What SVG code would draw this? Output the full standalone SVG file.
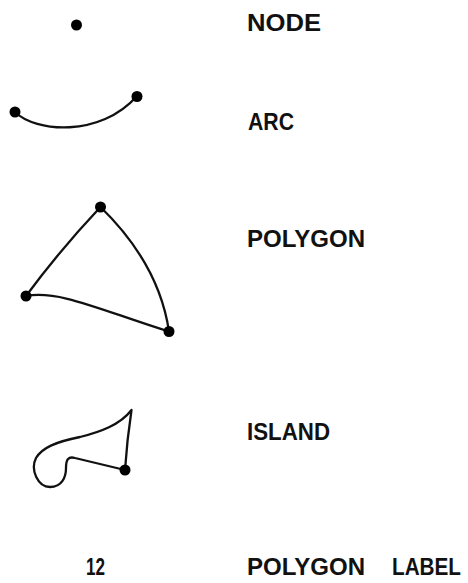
<svg xmlns="http://www.w3.org/2000/svg" width="468" height="583" viewBox="0 0 468 583">
<style>
.ln{fill:none;stroke:#111;stroke-width:2.3;stroke-linejoin:round;stroke-linecap:round}
.dot{fill:#000}
.lbl{font-family:"Liberation Sans",Arial,sans-serif;font-weight:bold;font-size:23px;fill:#111}
</style>
<rect width="468" height="583" fill="#fff"/>
<g id="node">
<circle class="dot" cx="76.5" cy="25" r="5.5"/>
<text class="lbl" x="247" y="31" textLength="74" lengthAdjust="spacingAndGlyphs">NODE</text>
</g>
<g id="arc">
<path class="ln" d="M15,112 C35,132 100,138 137,96"/>
<circle class="dot" cx="15" cy="112" r="5.5"/>
<circle class="dot" cx="137" cy="96.5" r="5.5"/>
<text class="lbl" x="248" y="130" textLength="46" lengthAdjust="spacingAndGlyphs">ARC</text>
</g>
<g id="polygon">
<path class="ln" d="M100.5,207 Q60,250 26,296 C60,290 100,310 169,331.5 Q159,264 100.5,207 Z"/>
<circle class="dot" cx="100.5" cy="207" r="5.5"/>
<circle class="dot" cx="26" cy="296" r="5.5"/>
<circle class="dot" cx="169" cy="331.5" r="5.5"/>
<text class="lbl" x="247" y="247" textLength="118" lengthAdjust="spacingAndGlyphs">POLYGON</text>
</g>
<g id="island">
<path class="ln" d="M125,470 Q127,440 131.5,410 C120,425 100,432 80,437 C55,442 42,448 36,458 C30,470 38,487 50,487 C62,487 66,477 66,468 C66,460 68,456 75,458 L125,470 Z"/>
<circle class="dot" cx="125" cy="470" r="5.5"/>
<text class="lbl" x="247" y="440" textLength="83" lengthAdjust="spacingAndGlyphs">ISLAND</text>
</g>
<g id="polygon-label">
<text class="lbl" x="86" y="575" font-size="22" textLength="19" lengthAdjust="spacingAndGlyphs">12</text>
<text class="lbl" x="247" y="575" textLength="118" lengthAdjust="spacingAndGlyphs">POLYGON</text>
<text class="lbl" x="392" y="575" textLength="69" lengthAdjust="spacingAndGlyphs">LABEL</text>
</g>
<g id="connectors"></g>
</svg>
